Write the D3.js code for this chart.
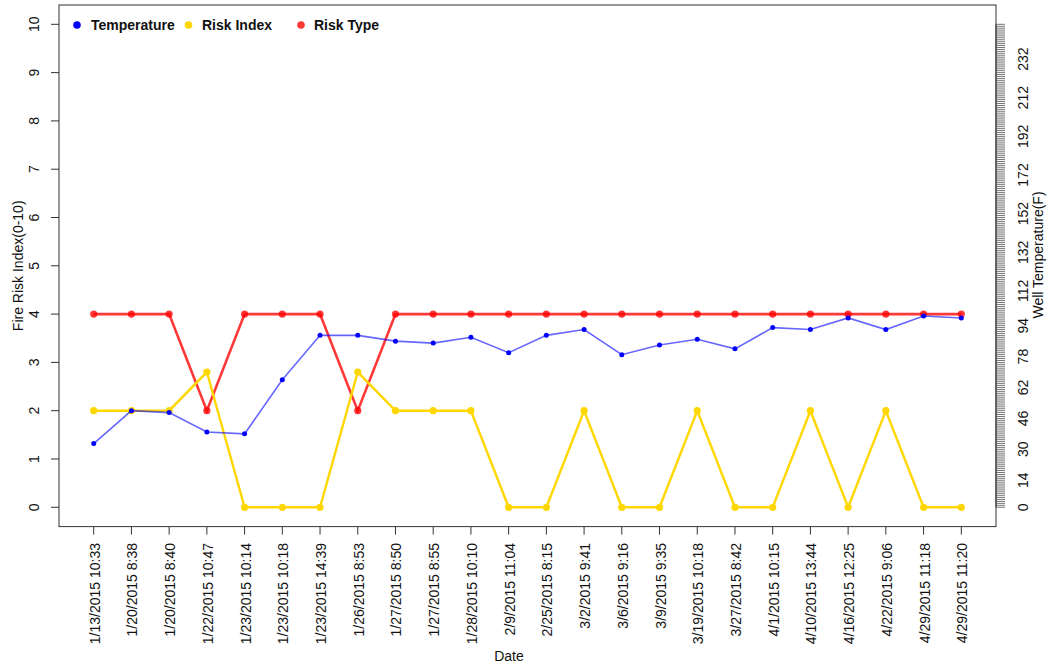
<!DOCTYPE html>
<html>
<head>
<meta charset="utf-8">
<script src="https://cdn.jsdelivr.net/npm/d3@7"></script>
<style>
  html, body { margin: 0; padding: 0; background: #fff; }
  svg { display: block; font-family: "Liberation Sans", Arial, Helvetica, sans-serif; }
</style>
</head>
<body>
<svg id="chart" width="1051" height="669"></svg>
<script>
// ---- data ----
const dates = ["1/13/2015 10:33","1/20/2015 8:38","1/20/2015 8:40","1/22/2015 10:47","1/23/2015 10:14",
  "1/23/2015 10:18","1/23/2015 14:39","1/26/2015 8:53","1/27/2015 8:50","1/27/2015 8:55","1/28/2015 10:10",
  "2/9/2015 11:04","2/25/2015 8:15","3/2/2015 9:41","3/6/2015 9:16","3/9/2015 9:35","3/19/2015 10:18",
  "3/27/2015 8:42","4/1/2015 10:15","4/10/2015 13:44","4/16/2015 12:25","4/22/2015 9:06","4/29/2015 11:18",
  "4/29/2015 11:20"];
const temperatureF = [33, 50, 49, 39, 38, 66, 89, 89, 86, 85, 88, 80, 89, 92, 79, 84, 87, 82, 93, 92, 98, 92, 99, 98];
const riskIndex = [2, 2, 2, 2.8, 0, 0, 0, 2.8, 2, 2, 2, 0, 0, 2, 0, 0, 2, 0, 0, 2, 0, 2, 0, 0];
const riskType = [4, 4, 4, 2, 4, 4, 4, 2, 4, 4, 4, 4, 4, 4, 4, 4, 4, 4, 4, 4, 4, 4, 4, 4];
const leftTicks = [0, 1, 2, 3, 4, 5, 6, 7, 8, 9, 10];
const rightTickLabels = [0, 14, 30, 46, 62, 78, 94, 112, 132, 152, 172, 192, 212, 232];
const rightTickMax = 250;
const tempPerUnit = 25; // temperature (F) shown per unit of the left axis

// ---- layout ----
const svg = d3.select("#chart");
const L = 59, R = 996, T = 5, B = 526.6;
const FS = 14;

const x = d3.scalePoint().domain(d3.range(dates.length)).range([L, R]).padding(0.92);
const y = d3.scaleLinear().domain([-0.4, 10.4]).range([B, T]);
const yR = d3.scaleLinear().domain([-0.4 * tempPerUnit, 10.4 * tempPerUnit]).range([B, T]);

// box
svg.append("rect").attr("x", L).attr("y", T).attr("width", R - L).attr("height", B - T)
  .attr("fill", "none").attr("stroke", "#333").attr("stroke-width", 1);

// left axis
const gL = svg.append("g");
gL.selectAll("line").data(leftTicks).join("line")
  .attr("x1", L - 8).attr("x2", L).attr("y1", d => y(d)).attr("y2", d => y(d))
  .attr("stroke", "#333");
gL.selectAll("text").data(leftTicks).join("text")
  .attr("transform", d => `translate(39,${y(d)}) rotate(-90)`)
  .attr("text-anchor", "middle").attr("font-size", FS).attr("fill", "#111").text(d => d);
svg.append("text").attr("transform", `translate(23,${(T + B) / 2}) rotate(-90)`)
  .attr("text-anchor", "middle").attr("font-size", FS).attr("fill", "#111").text("Fire Risk Index(0-10)");

// right axis
const rTicks = d3.range(0, rightTickMax + 1);
const gR = svg.append("g");
gR.append("line").attr("x1", R).attr("x2", R).attr("y1", yR(0)).attr("y2", yR(rightTickMax)).attr("stroke", "#333");
gR.selectAll("line.t").data(rTicks).join("line").attr("class", "t")
  .attr("x1", R).attr("x2", R + 9).attr("y1", d => yR(d)).attr("y2", d => yR(d))
  .attr("stroke", "#555").attr("stroke-width", 0.8);
gR.selectAll("text").data(rightTickLabels).join("text")
  .attr("transform", d => `translate(1028,${yR(d)}) rotate(-90)`)
  .attr("text-anchor", "middle").attr("font-size", FS).attr("fill", "#111").text(d => d);
svg.append("text").attr("transform", `translate(1043,255) rotate(-90)`)
  .attr("text-anchor", "middle").attr("font-size", FS).attr("fill", "#111").text("Well Temperature(F)");

// x axis
const gX = svg.append("g");
gX.selectAll("line").data(dates).join("line")
  .attr("x1", (d, i) => x(i)).attr("x2", (d, i) => x(i)).attr("y1", B).attr("y2", B + 8)
  .attr("stroke", "#333");
gX.selectAll("text").data(dates).join("text")
  .attr("transform", (d, i) => `translate(${x(i) + 6},543) rotate(-90)`)
  .attr("text-anchor", "end").attr("font-size", FS).attr("fill", "#111").text(d => d);
svg.append("text").attr("x", 509).attr("y", 661).attr("text-anchor", "middle")
  .attr("font-size", FS).attr("fill", "#111").text("Date");

// series
const idx = d3.range(dates.length);
const line = vals => d3.line().x(i => x(i)).y(i => y(vals[i]))(idx);

const redCol = "rgba(255,0,0,0.78)", yelCol = "#FFD700", bluCol = "#0000FF";

svg.append("path").attr("d", line(riskType)).attr("fill", "none")
  .attr("stroke", redCol).attr("stroke-width", 2.6);
svg.append("g").selectAll("circle").data(idx).join("circle")
  .attr("cx", i => x(i)).attr("cy", i => y(riskType[i])).attr("r", 3.6).attr("fill", redCol);

svg.append("path").attr("d", line(riskIndex)).attr("fill", "none")
  .attr("stroke", yelCol).attr("stroke-width", 2.4);
svg.append("g").selectAll("circle").data(idx).join("circle")
  .attr("cx", i => x(i)).attr("cy", i => y(riskIndex[i])).attr("r", 3.6).attr("fill", yelCol);

const tempUnits = temperatureF.map(t => t / tempPerUnit);
svg.append("path").attr("d", line(tempUnits)).attr("fill", "none")
  .attr("stroke", "rgba(0,0,255,0.6)").attr("stroke-width", 1.6);
svg.append("g").selectAll("circle").data(idx).join("circle")
  .attr("cx", i => x(i)).attr("cy", i => y(tempUnits[i])).attr("r", 2.5).attr("fill", bluCol);

// legend
const legend = [
  {label: "Temperature", color: bluCol, cx: 77, tx: 91},
  {label: "Risk Index", color: yelCol, cx: 188.5, tx: 202},
  {label: "Risk Type", color: redCol, cx: 301, tx: 314}
];
const gLeg = svg.append("g");
legend.forEach(d => {
  gLeg.append("circle").attr("cx", d.cx).attr("cy", 25).attr("r", 3.8).attr("fill", d.color);
  gLeg.append("text").attr("x", d.tx).attr("y", 30).attr("font-size", FS).attr("font-weight", "bold")
    .attr("fill", "#111").text(d.label);
});
</script>
</body>
</html>
